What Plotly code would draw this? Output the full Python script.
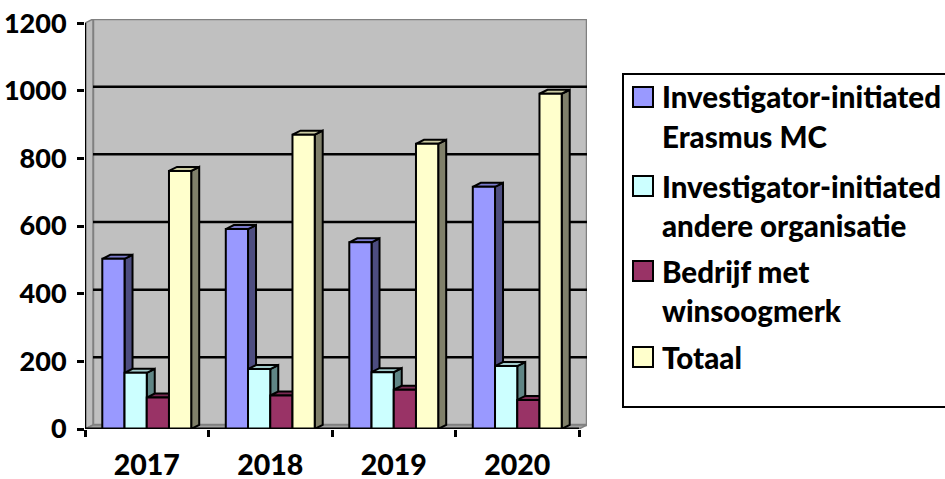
import plotly.graph_objects as go

# Studies per year by sponsor type
years = ["2017", "2018", "2019", "2020"]
series_names = [
    "Investigator-initiated<br>Erasmus MC",
    "Investigator-initiated<br>andere organisatie",
    "Bedrijf met<br>winsoogmerk",
    "Totaal",
]
iit_erasmus = [503, 591, 552, 716]
iit_other = [166, 177, 168, 186]
commercial = [93, 99, 116, 86]
total = [763, 870, 843, 991]
y_ticks = [0, 200, 400, 600, 800, 1000, 1200]

values = [iit_erasmus, iit_other, commercial, total]
front_colors = ["#9999FF", "#CCFFFF", "#993366", "#FFFFCC"]
top_colors = ["#7A7ACC", "#A3CCCC", "#7A2952", "#CCCCA3"]
side_colors = ["#4D4D80", "#5F8585", "#4D1A33", "#80806A"]

W, H = 945, 479
ML, MR, MT, MB = 85, 358, 19, 50
plot_w = W - ML - MR
plot_h = H - MT - MB

n_cat = len(years)
cat_px = 123.5                     # pixel width of one category on the front plane
depth_px_x, depth_px_y = 8, 4      # oblique depth offset of the 3-D walls and columns
y_top = 1212
dx = depth_px_x / cat_px
dy = depth_px_y * y_top / plot_h
x_range = [-0.5, n_cat - 0.5 + dx]

bargap = 0.28
bar_w = (1 - bargap) / len(values)

font = "Lato"
shapes = []


def poly(pts, fill, line_color="black", width=2, layer="below"):
    path = "M" + " L".join(f"{x},{y}" for x, y in pts) + " Z"
    shapes.append(dict(type="path", path=path, xref="x", yref="y",
                       fillcolor=fill, line=dict(color=line_color, width=width),
                       layer=layer))


def seg(x0, y0, x1, y1, color="black", width=2.5, layer="below"):
    shapes.append(dict(type="line", x0=x0, y0=y0, x1=x1, y1=y1, xref="x", yref="y",
                       line=dict(color=color, width=width), layer=layer))


x_lo, x_hi = -0.5, n_cat - 0.5
y_max = y_ticks[-1]

# back wall, left wall and floor
poly([(x_lo + dx, dy), (x_hi + dx, dy), (x_hi + dx, y_max + dy), (x_lo + dx, y_max + dy)],
     "#C0C0C0", "#808080", 2.5)
poly([(x_lo, 0), (x_lo + dx, dy), (x_lo + dx, y_max + dy), (x_lo, y_max)],
     "#BEBEBE", "#808080", 1.5)
poly([(x_lo, 0), (x_lo + dx, dy), (x_hi + dx, dy), (x_hi, 0)],
     "#A0A0A0", "#808080", 1.5)

# gridlines on the back wall
for v in y_ticks[1:-1]:
    seg(x_lo + dx, v + dy, x_hi + dx, v + dy, "black", 2.5)

# side and top faces of each column, drawn left to right
for i in range(n_cat):
    for k, vals in enumerate(values):
        v = vals[i]
        xl = i - (1 - bargap) / 2 + k * bar_w
        xr = xl + bar_w
        poly([(xr, 0), (xr + dx, dy), (xr + dx, v + dy), (xr, v)], side_colors[k], "black", 2)
        poly([(xl, v), (xr, v), (xr + dx, v + dy), (xl + dx, v + dy)], top_colors[k], "black", 2)

# front axis lines
seg(x_lo, 0, x_lo, y_max, "black", 2.5, "above")
seg(x_lo, 0, x_hi, 0, "black", 3, "above")

fig = go.Figure()
for k, vals in enumerate(values):
    fig.add_trace(go.Bar(
        x=years, y=vals, name=series_names[k].replace("<br>", " "),
        marker=dict(color=front_colors[k], line=dict(color="black", width=2)),
        showlegend=False, hoverinfo="x+y+name",
    ))


def px_x(p):
    return (p - ML) / plot_w


def px_y(p):
    return (H - MB - p) / plot_h


# legend panel
shapes.append(dict(type="rect", xref="paper", yref="paper",
                   x0=px_x(623), x1=px_x(948), y0=px_y(407), y1=px_y(74),
                   fillcolor="white", line=dict(color="black", width=2), layer="above"))
annotations = []
first_line_y = [97, 186, 271, 357]
line_step = 39
for k, name in enumerate(series_names):
    y0 = first_line_y[k]
    shapes.append(dict(type="rect", xref="paper", yref="paper",
                       x0=px_x(633), x1=px_x(653), y0=px_y(y0 + 10), y1=px_y(y0 - 10),
                       fillcolor=front_colors[k], line=dict(color="black", width=2),
                       layer="above"))
    for j, line in enumerate(name.split("<br>")):
        annotations.append(dict(
            xref="paper", yref="paper", x=px_x(660), y=px_y(y0 + j * line_step),
            xanchor="left", yanchor="middle", showarrow=False, text=line,
            font=dict(family=font, size=29.5, color="black", weight=900),
        ))

fig.update_layout(
    width=W, height=H,
    margin=dict(l=ML, r=MR, t=MT, b=MB, pad=0),
    paper_bgcolor="white", plot_bgcolor="white",
    barmode="group", bargap=bargap, bargroupgap=0,
    shapes=shapes, annotations=annotations,
    showlegend=False,
    xaxis=dict(
        type="category", categoryorder="array", categoryarray=years,
        range=x_range, tickson="boundaries", ticks="outside", ticklen=7,
        tickwidth=2.5, tickcolor="black", showgrid=False, showline=False,
        zeroline=False, ticklabelstandoff=16, automargin=False,
        tickfont=dict(family=font, size=28.5, color="black", weight=900),
    ),
    yaxis=dict(
        range=[0, y_top], tickvals=y_ticks, ticks="outside", ticklen=7,
        tickwidth=2.5, tickcolor="black", showgrid=False, showline=False,
        zeroline=False, ticklabelstandoff=5, automargin=False,
        tickfont=dict(family=font, size=27, color="black", weight=900),
    ),
)

fig.write_html("out.html")
